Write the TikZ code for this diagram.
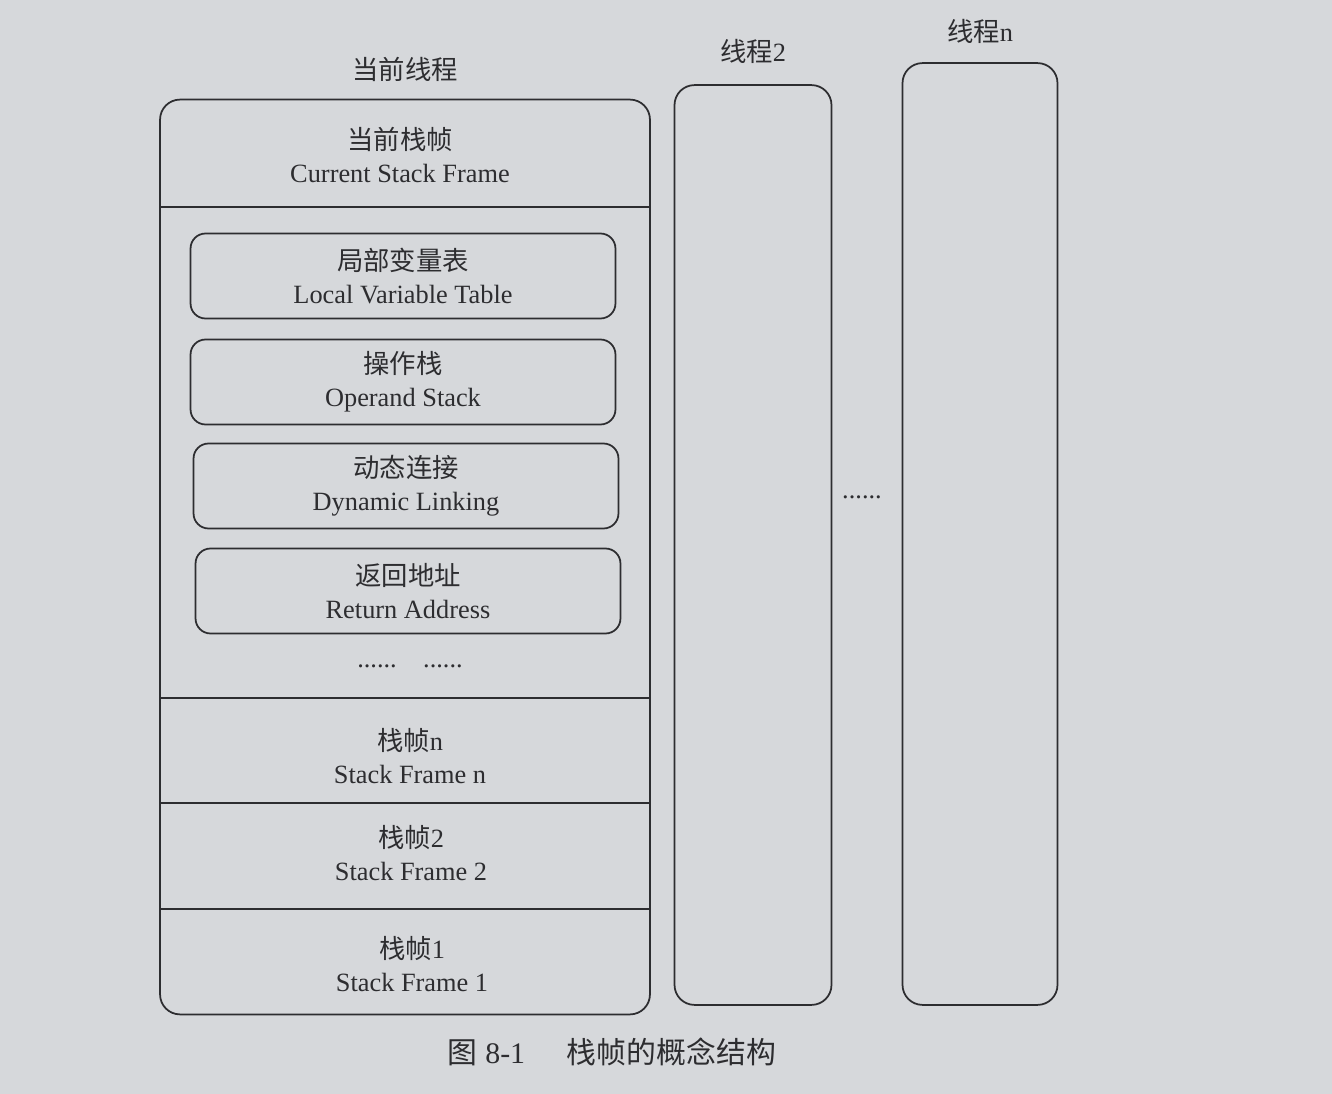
\documentclass[tikz,border=0pt]{standalone}
\usepackage{fontspec}
\usetikzlibrary{positioning}
\setmainfont{Liberation Serif}
\newfontfamily\cjk{Noto Sans CJK SC}
\definecolor{paper}{RGB}{214,216,219}
\definecolor{ink}{RGB}{45,45,48}
\tikzset{
  frame/.style={draw=ink, line width=1pt, rounded corners=0.4cm},
  slot/.style={draw=ink, line width=1pt, rounded corners=0.3cm,
    minimum width=8.5cm, minimum height=1.7cm, align=center},
  txt/.style={text=ink, align=center, font=\fontsize{15}{19}\selectfont},
}
\begin{document}
\begin{tikzpicture}[x=0.02cm, y=-0.02cm]
  \fill[paper] (0,0) rectangle (1332,1094);
  % threads
  \node[frame, minimum width=9.8cm, minimum height=18.3cm] (cur) at (405,557) {};
  \node[frame, minimum width=3.14cm, minimum height=18.4cm] (t2) at (753,545) {};
  \node[frame, minimum width=3.1cm, minimum height=18.84cm] (tn) at (980,534) {};
  \node[txt, above=0.22cm of cur.north] (curlabel) {{\cjk 当前线程}};
  \node[txt, above=0.28cm of t2.north] (t2label) {{\cjk 线程}2};
  \node[txt, above=0.25cm of tn.north] (tnlabel) {{\cjk 线程}n};
  \node[txt] (more) at (862,497) {......};
  % sections of the current thread
  \coordinate (s0) at (0,207);
  \coordinate (s1) at (0,698);
  \coordinate (s2) at (0,803);
  \coordinate (s3) at (0,909);
  \foreach \s in {s0,s1,s2,s3}
    \draw[ink, line width=1pt] (cur.west |- \s) -- (cur.east |- \s);
  \node[txt] (curframe) at (400,155) {{\cjk 当前栈帧}\\Current Stack Frame};
  \node[slot, txt] (lvt) at (403,276) {{\cjk 局部变量表}\\Local Variable Table};
  \node[slot, txt] (ops) at (403,382) {{\cjk 操作栈}\\Operand Stack};
  \node[slot, txt] (dyn) at (406,486) {{\cjk 动态连接}\\Dynamic Linking};
  \node[slot, txt] (ret) at (408,591) {{\cjk 返回地址}\\Return Address};
  \node[txt] (dots) at (410,666) {......\quad ......};
  \node[txt] (sfn) at (410,756) {{\cjk 栈帧}n\\Stack Frame n};
  \node[txt] (sf2) at (411,853) {{\cjk 栈帧}2\\Stack Frame 2};
  \node[txt] (sf1) at (412,964) {{\cjk 栈帧}1\\Stack Frame 1};
  % caption
  \node[txt, font=\fontsize{17}{20}\selectfont] (caption) at (612,1052) {{\cjk 图} 8-1\hspace{1.4em}{\cjk 栈帧的概念结构}};
\end{tikzpicture}
\end{document}
